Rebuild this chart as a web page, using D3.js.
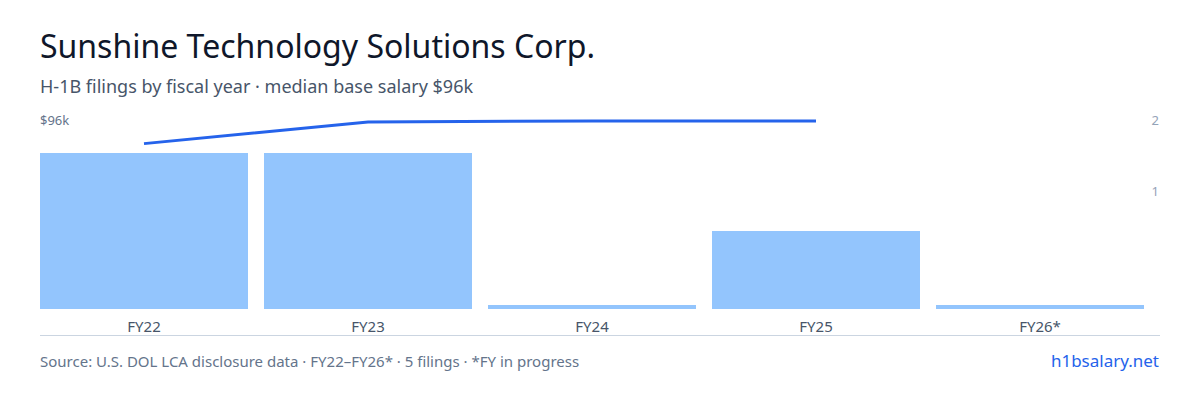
<!DOCTYPE html>
<html><head><meta charset="utf-8">
<script src="https://cdn.jsdelivr.net/npm/d3@7"></script>
<style>body{margin:0;background:#fff;font-family:"Noto Sans",sans-serif}</style>
</head><body><svg id="chart" width="1200" height="400"></svg>
<script>
// chart data
const years = ['FY22', 'FY23', 'FY24', 'FY25', 'FY26*'];
const filings = [2, 2, 0, 1, 0];
const salaryYears = ['FY22', 'FY23', 'FY24', 'FY25'];
const salaries = [84, 95, 95.5, 95.5];
const rightTicks = [1, 2];

const svg = d3.select('#chart');

svg.append('text').attr('x', 40).attr('y', 58).attr('font-size', 32).attr('fill', '#0f172a')
    .text('Sunshine Technology Solutions Corp.');
svg.append('text').attr('x', 40).attr('y', 93).attr('font-size', 18).attr('fill', '#475569')
    .text('H-1B filings by fiscal year · median base salary $96k');

const x = d3.scaleBand().domain(years).range([40, 1144]).paddingInner(16 / 224).paddingOuter(0);
const yBar = d3.scaleLinear().domain([0, 2]).range([309, 153]);
const yRight = d3.scaleLinear().domain([0, 2]).range([262, 120]);
const ySal = d3.scaleLinear().domain([0, 96]).range([309, 120]);

// bars, zero-count years get a thin sliver
svg.selectAll('.bar').data(years).enter().append('rect')
    .attr('x', d => x(d)).attr('width', x.bandwidth())
    .attr('y', (d, i) => Math.min(yBar(filings[i]), 305))
    .attr('height', (d, i) => 309 - Math.min(yBar(filings[i]), 305))
    .attr('fill', '#93c5fd');

// salary line
const line = d3.line().x(d => x(d[0]) + x.bandwidth() / 2).y(d => ySal(d[1]));
svg.append('path').datum(salaryYears.map((d, i) => [d, salaries[i]]))
    .attr('d', line).attr('fill', 'none').attr('stroke', '#2563eb').attr('stroke-width', 3);

svg.append('text').attr('x', 40).attr('y', 125).attr('font-size', 13).attr('fill', '#64748b').text('$96k');
svg.selectAll('.rt').data(rightTicks).enter().append('text')
    .attr('x', 1159).attr('y', d => yRight(d) + 5).attr('text-anchor', 'end')
    .attr('font-size', 13).attr('fill', '#94a3b8').text(d => d);

// x axis
svg.append('line').attr('x1', 40).attr('x2', 1160).attr('y1', 335.5).attr('y2', 335.5).attr('stroke', '#cbd5e1');
svg.selectAll('.xl').data(years).enter().append('text')
    .attr('x', d => x(d) + x.bandwidth() / 2).attr('y', 332).attr('text-anchor', 'middle')
    .attr('font-size', 15).attr('fill', '#475569').text(d => d);

svg.append('text').attr('x', 40).attr('y', 367).attr('font-size', 15).attr('fill', '#64748b')
    .text('Source: U.S. DOL LCA disclosure data · FY22–FY26* · 5 filings · *FY in progress');
svg.append('text').attr('x', 1159).attr('y', 367).attr('text-anchor', 'end').attr('font-size', 17)
    .attr('fill', '#2563eb').text('h1bsalary.net');
</script></body></html>
